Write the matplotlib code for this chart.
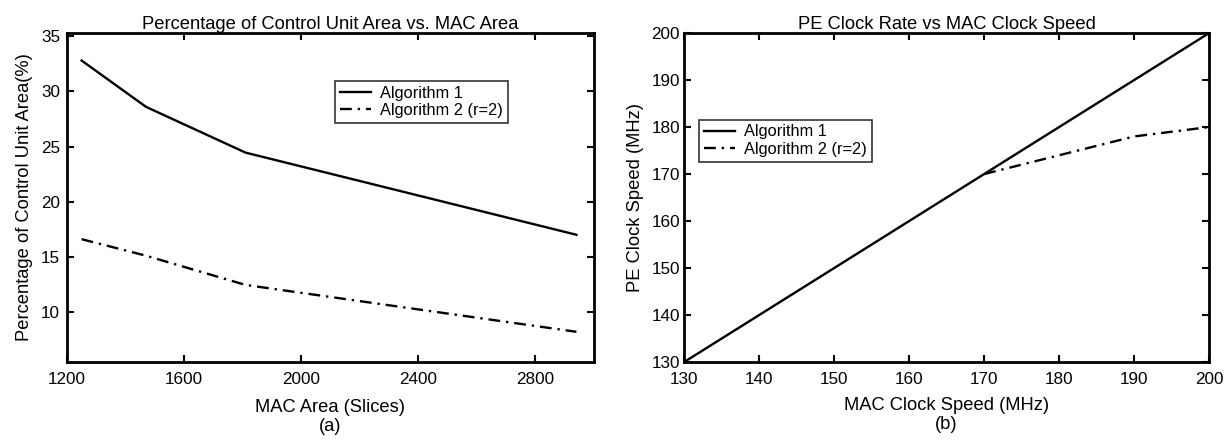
import matplotlib
matplotlib.use("Agg")
import matplotlib.pyplot as plt

plt.rcParams['font.family'] = ['Liberation Sans', 'DejaVu Sans']

# (a) control unit area share vs MAC area
mac_area = [1250, 1470, 1810, 2940]
alg1_pct = [32.8, 28.6, 24.45, 17.0]
alg2_pct = [16.6, 15.1, 12.45, 8.2]

# (b) PE clock vs MAC clock
mac_clk_1 = [130, 200]
pe_clk_1 = [130, 200]
mac_clk_2 = [170, 180, 190, 200]
pe_clk_2 = [170, 174, 178, 180]

labels = ['Algorithm 1', 'Algorithm 2 (r=2)']

fig = plt.figure(figsize=(12.27, 4.4), dpi=100)
ax1 = fig.add_axes([0.0546, 0.177, 0.4295, 0.748])
ax2 = fig.add_axes([0.5575, 0.177, 0.428, 0.748])


def style(ax):
    for s in ax.spines.values():
        s.set_linewidth(2.0)
    ax.tick_params(direction='in', top=True, right=True, length=5, width=1.5,
                   labelsize=12.3, pad=5)


def add_legend(ax, anchor):
    leg = ax.legend(loc='upper left', bbox_to_anchor=anchor, fontsize=11.8,
                    frameon=True, fancybox=False, edgecolor='black',
                    borderpad=0.3, labelspacing=0.15, handlelength=1.9,
                    handletextpad=0.55, borderaxespad=0)
    leg.get_frame().set_linewidth(1.2)


ax1.plot(mac_area, alg1_pct, '-', color='black', lw=1.7, label=labels[0])
ax1.plot(mac_area, alg2_pct, color='black', lw=1.7, dashes=(5, 2.5, 1, 2.5),
         label=labels[1])
ax1.set_xlim(1200, 3000)
ax1.set_ylim(5.45, 35.3)
ax1.set_xticks([1200, 1600, 2000, 2400, 2800])
ax1.set_yticks([10, 15, 20, 25, 30, 35])
ax1.set_title('Percentage of Control Unit Area vs. MAC Area', fontsize=13.2, pad=3)
ax1.set_xlabel('MAC Area (Slices)\n(a)', fontsize=13.2, labelpad=9,
               linespacing=1.15)
ax1.set_ylabel('Percentage of Control Unit Area(%)', fontsize=13.2, labelpad=6)
style(ax1)
ax1.tick_params(axis='x', pad=7)
add_legend(ax1, (0.509, 0.855))

ax2.plot(mac_clk_1, pe_clk_1, '-', color='black', lw=1.7, label=labels[0])
ax2.plot(mac_clk_2, pe_clk_2, color='black', lw=1.7, dashes=(5, 2.5, 1, 2.5),
         label=labels[1])
ax2.set_xlim(130, 200)
ax2.set_ylim(130, 200)
ax2.set_xticks(range(130, 201, 10))
ax2.set_yticks(range(130, 201, 10))
ax2.set_title('PE Clock Rate vs MAC Clock Speed', fontsize=13.2, pad=3)
ax2.set_xlabel('MAC Clock Speed (MHz)\n(b)', fontsize=13.2, labelpad=7,
               linespacing=1.2)
ax2.set_ylabel('PE Clock Speed (MHz)', fontsize=13.2, labelpad=5)
style(ax2)
ax2.tick_params(axis='x', pad=7)
ax2.tick_params(axis='y', pad=3)
add_legend(ax2, (0.029, 0.737))

fig.savefig('out.png', dpi=100)
